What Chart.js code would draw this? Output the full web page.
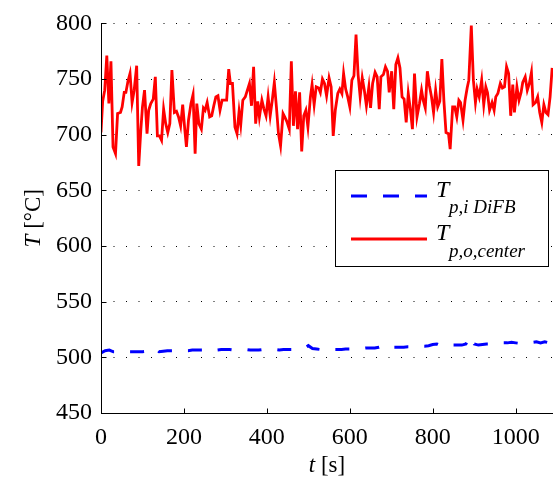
<!DOCTYPE html>
<html>
<head>
<meta charset="utf-8">
<script src="https://cdn.jsdelivr.net/npm/chart.js@4/dist/chart.umd.min.js"></script>
<style>
html,body{margin:0;padding:0;background:#fff;}
canvas{display:block;}
</style>
</head>
<body>
<canvas id="c" width="553" height="481"></canvas>
<script>
// ---- data ----
const xTickValues = [0, 200, 400, 600, 800, 1000];
const yTickValues = [450, 500, 550, 600, 650, 700, 750, 800];

const redTime = [0,4,9,14,19,24,29,35,40,47,51,56,60,65,70,75,80,86,91,96,100,105,111,115,120,126,131,136,141,146,151,156,161,166,171,177,182,187,192,197,202,206,211,217,222,227,231,236,242,247,251,256,262,267,272,277,282,287,292,297,303,308,312,317,323,328,333,337,342,348,353,358,363,368,373,378,382,388,393,398,403,408,413,418,423,428,433,439,443,448,454,459,464,469,474,479,484,489,494,499,505,509,514,519,525,529,534,539,
544,550,555,560,565,571,576,581,585,590,595,600,605,610,615,620,625,630,635,640,646,650,655,661,666,671,675,681,686,691,695,701,706,711,716,721,726,731,736,741,746,751,756,762,768,773,777,782,787,792,797,802,807,812,817,822,827,832,838,842,848,853,858,863,867,873,878,883,887,893,898,903,907,912,918,923,928,932,937,943,948,952,957,963,968,973,978,983,988,993,997,1003,1008,1013,1017,1023,1028,1033,1038,1042,1048,1053,1058,1063,1068,1073,1078,1083,1088];
const redValues = [702,730,740,771,728,766,689,683,719,720,725,738,738,748,755,729,740,762,672,704,725,740,701,722,728,732,752,699,699,695,723,710,702,710,758,720,721,716,708,727,705,689,713,728,736,683,728,710,705,724,722,729,716,717,726,734,735,722,731,731,731,759,746,746,707,701,721,709,731,734,740,746,726,761,710,730,716,731,723,717,734,717,731,747,725,701,690,719,716,712,705,766,708,739,705,738,685,717,722,707,734,745,727,743,742,738,750,746,
735,751,743,699,722,737,741,737,755,741,734,725,749,753,790,754,734,751,740,726,743,724,746,756,752,723,752,754,761,757,738,757,723,763,769,760,734,732,711,737,723,705,755,716,728,740,731,724,757,744,734,720,740,725,730,768,730,702,701,687,725,725,716,731,729,713,731,742,749,798,749,729,741,734,749,727,743,738,722,729,722,734,737,746,742,743,761,755,717,745,720,743,731,738,747,752,740,746,756,727,729,734,720,711,727,720,718,734,760];

const blueTime = [0,10,20,30,40,50,60,70,80,90,100,110,120,130,140,150,160,170,180,190,200,210,220,230,240,250,260,270,280,290,300,310,320,330,340,350,360,370,380,390,400,410,420,430,440,450,460,470,480,490,500,510,520,530,540,550,560,570,580,590,600,610,620,630,640,650,660,670,680,690,700,710,720,730,740,750,760,770,780,790,800,810,820,830,840,850,860,870,880,890,900,910,920,930,940,950,960,970,980,990,1000,1010,1020,1030,1040,1050,1060,1070,1080,1088];
const blueValues = [504,506,506.5,505,505,505,505,505,505,505,505,505.5,505.5,508,505,505.5,506,506,506,506,506,506,506.5,506.5,506.5,506.5,506.5,507.5,506.5,507,507,507,506.5,506.5,506.5,507,506.5,506.5,506.5,507,506.5,506.5,507,506.5,507,507,507,507,507.5,508,510.5,508,507.5,507,507.5,507,507,507,507,507.5,507.5,507.5,508,508,508.5,508.5,508.5,509,510,508,509,509,509,509,509.5,509.5,509.5,510,510,510.5,511.5,512,510.5,511.5,511,511,511,511,512,519,512,511,511.5,512,512,512.5,513,513,513,513.5,513,512.5,512.5,513,513.5,514,513,514,513,512];

const seriesNames = ['DiFB inlet', 'outlet center'];

const SERIF = "'Liberation Serif', 'Times New Roman', Times, serif";
Chart.defaults.font.family = SERIF;
Chart.defaults.color = '#000';

function pts(t, v) { return t.map((x, i) => ({x: x, y: v[i]})); }

function drawRich(ctx, x, y, parts) {
  let cx = x;
  parts.forEach(p => {
    ctx.font = p.font;
    ctx.fillText(p.text, cx, y + (p.dy || 0));
    cx += ctx.measureText(p.text).width + (p.gap || 0);
  });
  return cx;
}

const overlay = {
  id: 'overlay',
  afterDraw(chart) {
    const {ctx, chartArea: a, scales: {x, y}} = chart;
    ctx.save();
    ctx.strokeStyle = '#000';
    ctx.lineWidth = 1;
    ctx.setLineDash([]);
    ctx.beginPath();
    const L = Math.round(a.left) + 0.5, B = Math.round(a.bottom) + 0.5;
    ctx.moveTo(L, Math.round(a.top));
    ctx.lineTo(L, B);
    ctx.lineTo(a.right, B);
    ctx.stroke();
    ctx.beginPath();
    yTickValues.forEach(v => {
      const py = Math.round(y.getPixelForValue(v)) + 0.5;
      ctx.moveTo(L, py); ctx.lineTo(L + 5, py);
    });
    xTickValues.forEach(v => {
      const px = Math.round(x.getPixelForValue(v)) + 0.5;
      ctx.moveTo(px, B); ctx.lineTo(px, B - 5);
    });
    ctx.stroke();

    ctx.fillStyle = '#000';
    ctx.textBaseline = 'alphabetic';
    ctx.font = 'italic 23px ' + SERIF;
    const w1 = ctx.measureText('t').width;
    ctx.font = '23px ' + SERIF;
    const w2 = ctx.measureText(' [s]').width;
    const xc = (a.left + a.right) / 2;
    drawRich(ctx, xc - (w1 + w2) / 2, 472, [
      {text: 't', font: 'italic 23px ' + SERIF},
      {text: ' [s]', font: '23px ' + SERIF}
    ]);
    ctx.save();
    ctx.translate(40, (a.top + a.bottom) / 2);
    ctx.rotate(-Math.PI / 2);
    ctx.font = 'italic 23px ' + SERIF;
    const v1 = ctx.measureText('T').width;
    ctx.font = '23px ' + SERIF;
    const v2 = ctx.measureText(' [°C]').width;
    drawRich(ctx, -(v1 + v2) / 2, 0, [
      {text: 'T', font: 'italic 23px ' + SERIF},
      {text: ' [°C]', font: '23px ' + SERIF}
    ]);
    ctx.restore();

    const bx = 335.5, by = 170.5, bw = 213, bh = 96;
    ctx.fillStyle = '#fff';
    ctx.fillRect(bx, by, bw, bh);
    ctx.strokeStyle = '#000';
    ctx.lineWidth = 1;
    ctx.strokeRect(bx, by, bw, bh);
    const ds = chart.data.datasets;
    ctx.strokeStyle = ds[0].borderColor;
    ctx.lineWidth = ds[0].borderWidth;
    ctx.setLineDash([16, 16]);
    ctx.beginPath(); ctx.moveTo(351, 196); ctx.lineTo(427, 196); ctx.stroke();
    ctx.setLineDash([]);
    ctx.strokeStyle = ds[1].borderColor;
    ctx.lineWidth = ds[1].borderWidth;
    ctx.beginPath(); ctx.moveTo(351, 239); ctx.lineTo(427, 239); ctx.stroke();
    ctx.fillStyle = '#000';
    drawRich(ctx, 436, 197, [{text: 'T', font: 'italic 24px ' + SERIF}]);
    drawRich(ctx, 449, 213, [{text: 'p,i DiFB', font: 'italic 19px ' + SERIF}]);
    drawRich(ctx, 436, 240, [{text: 'T', font: 'italic 24px ' + SERIF}]);
    drawRich(ctx, 449, 257, [{text: 'p,o,center', font: 'italic 19px ' + SERIF}]);
    ctx.restore();
  }
};

new Chart(document.getElementById('c'), {
  type: 'line',
  data: {
    datasets: [
      {
        label: seriesNames[0],
        data: pts(blueTime, blueValues),
        borderColor: '#0000ff',
        borderWidth: 3,
        borderDash: [14, 16],
        pointRadius: 0,
        tension: 0,
        fill: false
      },
      {
        label: seriesNames[1],
        data: pts(redTime, redValues),
        borderColor: '#ff0000',
        borderWidth: 2.8,
        pointRadius: 0,
        tension: 0,
        fill: false
      }
    ]
  },
  options: {
    responsive: false,
    animation: false,
    devicePixelRatio: 1,
    layout: {padding: {top: 23, right: 0, bottom: 0, left: 0}},
    plugins: {legend: {display: false}, tooltip: {enabled: false}},
    scales: {
      x: {
        type: 'linear',
        min: 0,
        max: 1090,
        afterFit: s => { s.height = 68; },
        afterBuildTicks: s => { s.ticks = xTickValues.map(v => ({value: v})); },
        grid: {display: false, drawTicks: false},
        border: {display: false},
        ticks: {
          color: '#000',
          font: {family: SERIF, size: 24},
          padding: 10,
          maxRotation: 0,
          autoSkip: false,
          callback: v => String(v)
        }
      },
      y: {
        type: 'linear',
        min: 450,
        max: 800,
        afterFit: s => { s.width = 101; },
        afterBuildTicks: s => { s.ticks = yTickValues.map(v => ({value: v})); },
        grid: {display: true, drawTicks: false, color: '#000', lineWidth: 1},
        border: {display: false, dash: [1, 11.5]},
        ticks: {
          color: '#000',
          font: {family: SERIF, size: 24},
          padding: 9,
          autoSkip: false,
          callback: v => String(v)
        }
      }
    }
  },
  plugins: [overlay]
});
</script>
</body>
</html>
